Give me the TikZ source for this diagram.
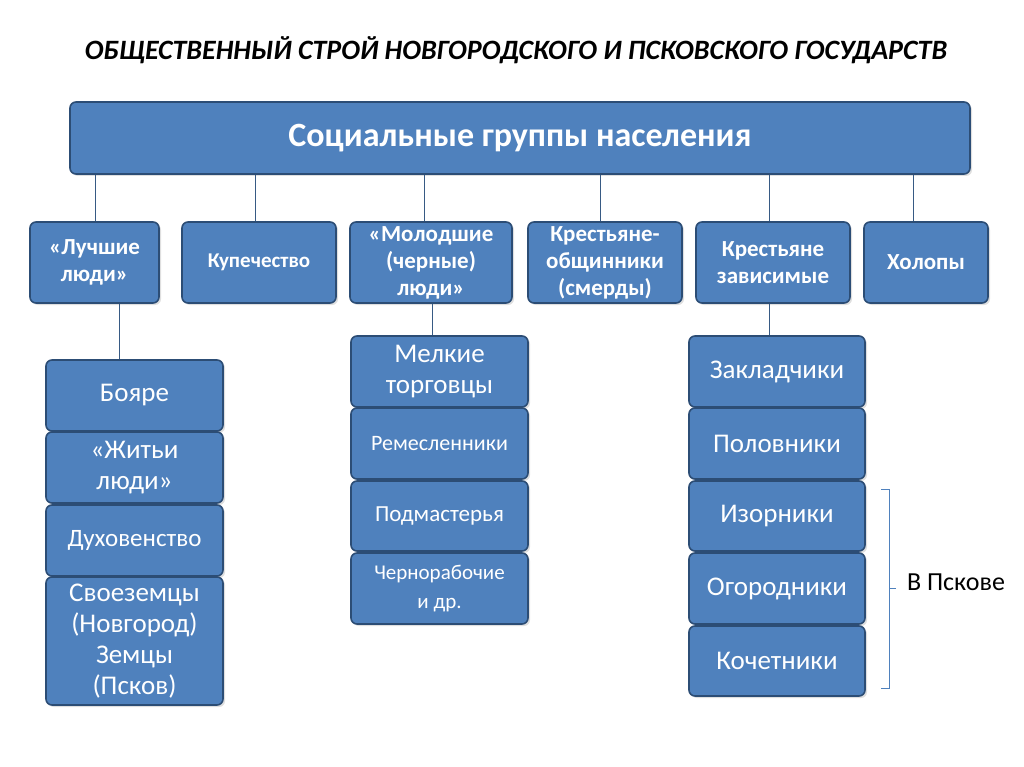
\documentclass[tikz,border=0pt]{standalone}
\usepackage{fontspec}
\setmainfont{Carlito}
\usetikzlibrary{shadows}
\definecolor{bfill}{HTML}{4F81BD}
\definecolor{bline}{HTML}{2C4D75}
\begin{document}
\begin{tikzpicture}[x=1pt,y=-1pt,
 bx/.style={draw=bline,line width=1.6pt,fill=bfill,text=white,rounded corners=6pt,align=center,inner sep=2pt,drop shadow={opacity=0.25,shadow xshift=2pt,shadow yshift=-2pt}},
 ln/.style={draw=bfill!70!black,line width=0.8pt}]
\useasboundingbox (0,0) rectangle (1024,767);
\node[font=\fontsize{28}{32}\selectfont\bfseries\itshape] (title) at (516,50) {ОБЩЕСТВЕННЫЙ СТРОЙ НОВГОРОДСКОГО И ПСКОВСКОГО ГОСУДАРСТВ};
\newcommand\bb[7]{\node[bx,minimum width=#3-#1,minimum height=#4-#2,font=#6] (#5) at ({(#1+#3)/2},{(#2+#4)/2}) {#7};}
\bb{70}{102}{970}{174}{top}{\fontsize{34}{40}\selectfont\bfseries}{Социальные группы населения}
\bb{30}{222}{159}{303}{g1}{\fontsize{23}{27}\selectfont\bfseries}{«Лучшие\\люди»}
\bb{182}{222}{336}{303}{g2}{\fontsize{21}{25}\selectfont\bfseries}{Купечество}
\bb{350}{222}{512}{303}{g3}{\fontsize{23}{27}\selectfont\bfseries}{«Молодшие\\(черные)\\люди»}
\bb{528}{222}{682}{303}{g4}{\fontsize{23}{27}\selectfont\bfseries}{Крестьяне-\\общинники\\(смерды)}
\bb{696}{222}{850}{303}{g5}{\fontsize{23}{27}\selectfont\bfseries}{Крестьяне\\зависимые}
\bb{864}{222}{988}{303}{g6}{\fontsize{23}{27}\selectfont\bfseries}{Холопы}
\foreach \n/\x in {g1/95,g2/255,g3/424,g4/600,g5/769,g6/913}
  \draw[ln] (top.south -| \x,0) -- (\n.north -| \x,0);
\bb{46}{360}{223}{431}{a1}{\fontsize{27}{31}\selectfont}{Бояре}
\bb{46}{432}{223}{503}{a2}{\fontsize{27}{31}\selectfont}{«Житьи\\люди»}
\bb{46}{505}{223}{576}{a3}{\fontsize{25}{30}\selectfont}{Духовенство}
\bb{46}{577}{223}{705}{a4}{\fontsize{27}{31}\selectfont}{Своеземцы\\(Новгород)\\Земцы\\(Псков)}
\draw[ln] (g1.south -| 119,0) -- (a1.north -| 119,0);
\bb{351}{336}{528}{407}{b1}{\fontsize{27}{31}\selectfont}{Мелкие\\торговцы}
\bb{351}{408}{528}{479}{b2}{\fontsize{22}{26}\selectfont}{Ремесленники}
\bb{351}{481}{528}{551}{b3}{\fontsize{23}{27}\selectfont}{Подмастерья}
\bb{351}{553}{528}{624}{b4}{\fontsize{21}{29}\selectfont}{Чернорабочие\\и др.}
\draw[ln] (g3.south -| 432,0) -- (b1.north -| 432,0);
\bb{689}{336}{865}{407}{c1}{\fontsize{27}{31}\selectfont}{Закладчики}
\bb{689}{408}{865}{479}{c2}{\fontsize{27}{31}\selectfont}{Половники}
\bb{689}{481}{865}{551}{c3}{\fontsize{27}{31}\selectfont}{Изорники}
\bb{689}{553}{865}{624}{c4}{\fontsize{27}{31}\selectfont}{Огородники}
\bb{689}{626}{865}{696}{c5}{\fontsize{27}{31}\selectfont}{Кочетники}
\draw[ln] (g5.south -| 769,0) -- (c1.north -| 769,0);
\draw[bfill,line width=0.8pt] (881,489) -- (889,489) -- (889,688) -- (881,688);
\draw[bfill,line width=0.8pt] (889,588) -- (896,588);
\node[font=\fontsize{26}{30}\selectfont] (psk) at (956,582) {В Пскове};
\end{tikzpicture}
\end{document}
